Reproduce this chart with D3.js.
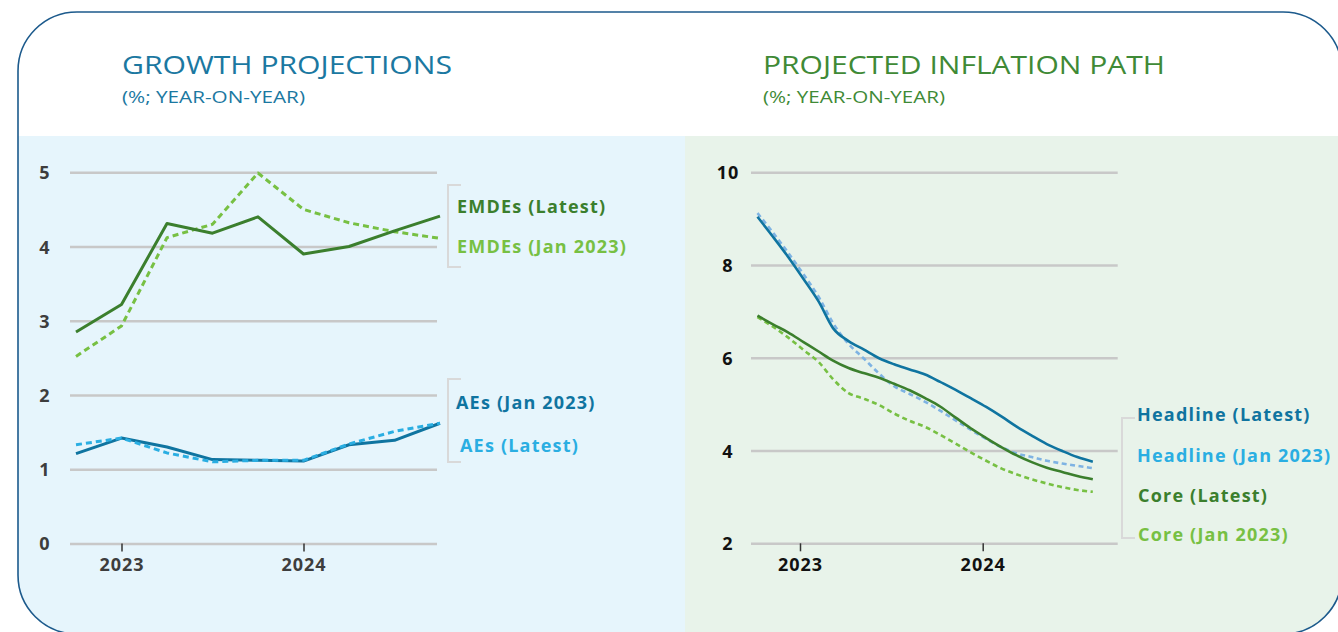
<!DOCTYPE html>
<html>
<head>
<meta charset="utf-8">
<script src="https://cdn.jsdelivr.net/npm/d3@7"></script>
<style>
  body { margin: 0; background: #fff; }
  svg { display: block; font-family: "Open Sans", sans-serif; }
</style>
</head>
<body>
<svg width="1338" height="632"></svg>
<script>
// growth projections, quarterly
let quarters = ['2022Q4', '2023Q1', '2023Q2', '2023Q3', '2023Q4', '2024Q1', '2024Q2', '2024Q3', '2024Q4'];
let emdeLatest = [2.85, 3.22, 4.31, 4.18, 4.40, 3.90, 4.00, 4.21, 4.41];
let emdeJan = [2.52, 2.93, 4.12, 4.30, 4.99, 4.50, 4.32, 4.20, 4.11];
let aeJan = [1.21, 1.42, 1.30, 1.13, 1.12, 1.11, 1.33, 1.39, 1.62];
let aeLatest = [1.33, 1.42, 1.22, 1.10, 1.12, 1.12, 1.34, 1.51, 1.62];
let growthTicks = [0, 1, 2, 3, 4, 5];

// projected inflation path, monthly
let months = ['2022-10', '2022-11', '2022-12',
  '2023-01', '2023-02', '2023-03', '2023-04', '2023-05', '2023-06',
  '2023-07', '2023-08', '2023-09', '2023-10', '2023-11', '2023-12',
  '2024-01', '2024-02', '2024-03', '2024-04', '2024-05', '2024-06', '2024-07', '2024-08'];
let headLatest = [9.04, 8.61, 8.18, 7.70, 7.20, 6.64, 6.36, 6.18, 5.99, 5.86, 5.75, 5.64, 5.48, 5.31, 5.13, 4.94, 4.73, 4.52, 4.32, 4.14, 3.99, 3.86, 3.76];
let headJan = [9.12, 8.70, 8.27, 7.80, 7.30, 6.75, 6.30, 5.99, 5.66, 5.39, 5.22, 5.05, 4.86, 4.65, 4.45, 4.25, 4.07, 3.94, 3.86, 3.78, 3.72, 3.67, 3.62];
let coreLatest = [6.91, 6.72, 6.55, 6.34, 6.13, 5.94, 5.78, 5.67, 5.57, 5.44, 5.30, 5.13, 4.95, 4.71, 4.48, 4.27, 4.07, 3.90, 3.75, 3.63, 3.54, 3.45, 3.38];
let coreJan = [6.88, 6.67, 6.44, 6.17, 5.90, 5.54, 5.24, 5.12, 4.98, 4.80, 4.64, 4.51, 4.34, 4.15, 3.96, 3.78, 3.61, 3.49, 3.38, 3.29, 3.21, 3.15, 3.11];
let inflTicks = [2, 4, 6, 8, 10];
let years = ['2023', '2024'];

let darkGreen = '#3b7f2d', lightGreen = '#77c043';
let darkBlue = '#0f74a0', lightBlue = '#2aaee2', paleBlue = '#7eb3e3';

let svg = d3.select('svg');
let width = +svg.attr('width');
let height = +svg.attr('height');

// frame + panel backgrounds
let frame = { x: 18, y: 12, w: 1324, h: 622, r: 59 };
svg.append('clipPath').attr('id', 'frame')
  .append('rect')
    .attr('x', frame.x).attr('y', frame.y)
    .attr('width', frame.w).attr('height', frame.h)
    .attr('rx', frame.r);

let bg = svg.append('g').attr('clip-path', 'url(#frame)');
bg.append('rect').attr('x', 0).attr('y', 136).attr('width', 685).attr('height', height - 136).attr('fill', '#e6f5fc');
bg.append('rect').attr('x', 685).attr('y', 136).attr('width', width - 685).attr('height', height - 136).attr('fill', '#e8f3ea');

svg.append('rect')
    .attr('x', frame.x).attr('y', frame.y)
    .attr('width', frame.w).attr('height', frame.h)
    .attr('rx', frame.r)
    .attr('fill', 'none')
    .attr('stroke', '#1c5a8c')
    .attr('stroke-width', 1.6);

// titles
function title(x, color, main, sub, mainLen, subLen) {
  svg.append('text').attr('x', x).attr('y', 74)
      .attr('fill', color).style('font-size', '26px')
      .attr('textLength', mainLen).attr('lengthAdjust', 'spacingAndGlyphs')
      .text(main);
  svg.append('text').attr('x', x).attr('y', 103)
      .attr('fill', color).style('font-size', '16px')
      .attr('textLength', subLen).attr('lengthAdjust', 'spacingAndGlyphs')
      .text(sub);
}
title(122, '#1b78a1', 'GROWTH PROJECTIONS', '(%; YEAR-ON-YEAR)', 330, 183);
title(763, '#3f8a36', 'PROJECTED INFLATION PATH', '(%; YEAR-ON-YEAR)', 402, 182);

function styleAxes(g, textColor) {
  g.attr('font-family', null).attr('font-size', null);
  g.select('.domain').remove();
  g.selectAll('text')
      .attr('fill', textColor)
      .style('font-size', '18px')
      .style('font-weight', 700)
      .style('letter-spacing', '1px');
}

function drawGrid(y, ticks, x0, x1, labelX, textColor) {
  let g = svg.append('g')
      .attr('transform', `translate(${x0},0)`)
      .call(d3.axisLeft(y).tickValues(ticks).tickSize(-(x1 - x0)).tickFormat(d3.format('d')));
  styleAxes(g, textColor);
  g.selectAll('.tick line').attr('stroke', '#c8c8c8').attr('stroke-width', 2.6);
  g.selectAll('.tick text').attr('x', labelX - x0).attr('text-anchor', 'middle').attr('dy', '0.36em');
}

function drawYears(x, vals, fmt, y0, textColor) {
  let g = svg.append('g')
      .attr('transform', `translate(0,${y0})`)
      .call(d3.axisBottom(x).tickValues(vals).tickSize(8).tickFormat(fmt));
  styleAxes(g, textColor);
  g.selectAll('.tick line').attr('stroke', '#333').attr('stroke-width', 1.5);
  g.selectAll('.tick text').attr('y', 15).attr('dy', '0.71em');
}

function drawLine(x, y, xs, vals, color, dashed, curve, w) {
  svg.append('path')
      .datum(vals)
      .attr('fill', 'none')
      .attr('stroke', color)
      .attr('stroke-width', w)
      .attr('stroke-dasharray', dashed ? (w > 2.8 ? '6,4' : '5,3.5') : null)
      .attr('stroke-linejoin', 'round')
      .attr('d', d3.line().curve(curve).x((d, i) => x(xs[i])).y(d => y(d)));
}

function drawLegend(bx, top, bottom, items) {
  svg.append('path')
      .attr('d', `M${bx + 13},${top}H${bx}V${bottom}H${bx + 13}`)
      .attr('fill', 'none')
      .attr('stroke', '#d9d9d9')
      .attr('stroke-width', 2);
  items.forEach(it => {
    svg.append('text')
        .attr('x', it.x).attr('y', it.y).attr('dy', '0.35em')
        .attr('fill', it.color)
        .style('font-size', '18px')
        .style('font-weight', 700)
        .style('letter-spacing', '1.2px')
        .text(it.label);
  });
}

// ---- left: growth projections
let xL = d3.scalePoint().domain(quarters).range([76, 440]);
let yL = d3.scaleLinear().domain([0, 5]).range([543.5, 172.3]);

drawGrid(yL, growthTicks, 70, 437, 45, '#3d3d3d');
drawYears(xL, ['2023Q1', '2024Q1'], d => d.slice(0, 4), yL(0), '#3d3d3d');

drawLine(xL, yL, quarters, emdeJan, lightGreen, true, d3.curveLinear, 3);
drawLine(xL, yL, quarters, emdeLatest, darkGreen, false, d3.curveLinear, 3);
drawLine(xL, yL, quarters, aeJan, darkBlue, false, d3.curveLinear, 3);
drawLine(xL, yL, quarters, aeLatest, lightBlue, true, d3.curveLinear, 3);

drawLegend(448, 185, 267, [
  { label: 'EMDEs (Latest)', color: darkGreen, x: 457, y: 207 },
  { label: 'EMDEs (Jan 2023)', color: lightGreen, x: 457, y: 247 }
]);
drawLegend(448, 379, 462, [
  { label: 'AEs (Jan 2023)', color: darkBlue, x: 456, y: 403 },
  { label: 'AEs (Latest)', color: lightBlue, x: 460, y: 446 }
]);

// ---- right: projected inflation path
let parseMonth = d3.timeParse('%Y-%m');
let dates = months.map(m => d3.timeDay.offset(parseMonth(m), 7));
let xR = d3.scaleTime()
    .domain([new Date(2023, 0, 1), new Date(2024, 0, 1)])
    .range([800, 982.7]);
let yR = d3.scaleLinear().domain([2, 10]).range([543.3, 172.3]);

drawGrid(yR, inflTicks, 751, 1117.7, 728, '#111');
drawYears(xR, years.map(y => new Date(+y, 0, 1)), d3.timeFormat('%Y'), yR(2), '#111');

drawLine(xR, yR, dates, headJan, paleBlue, true, d3.curveMonotoneX, 2.6);
drawLine(xR, yR, dates, coreJan, lightGreen, true, d3.curveMonotoneX, 2.6);
drawLine(xR, yR, dates, coreLatest, darkGreen, false, d3.curveMonotoneX, 2.6);
drawLine(xR, yR, dates, headLatest, darkBlue, false, d3.curveMonotoneX, 2.6);

drawLegend(1122, 418, 538, [
  { label: 'Headline (Latest)', color: darkBlue, x: 1137, y: 415 },
  { label: 'Headline (Jan 2023)', color: lightBlue, x: 1137, y: 456 },
  { label: 'Core (Latest)', color: darkGreen, x: 1138, y: 496 },
  { label: 'Core (Jan 2023)', color: lightGreen, x: 1138, y: 535 }
]);
</script>
</body>
</html>
